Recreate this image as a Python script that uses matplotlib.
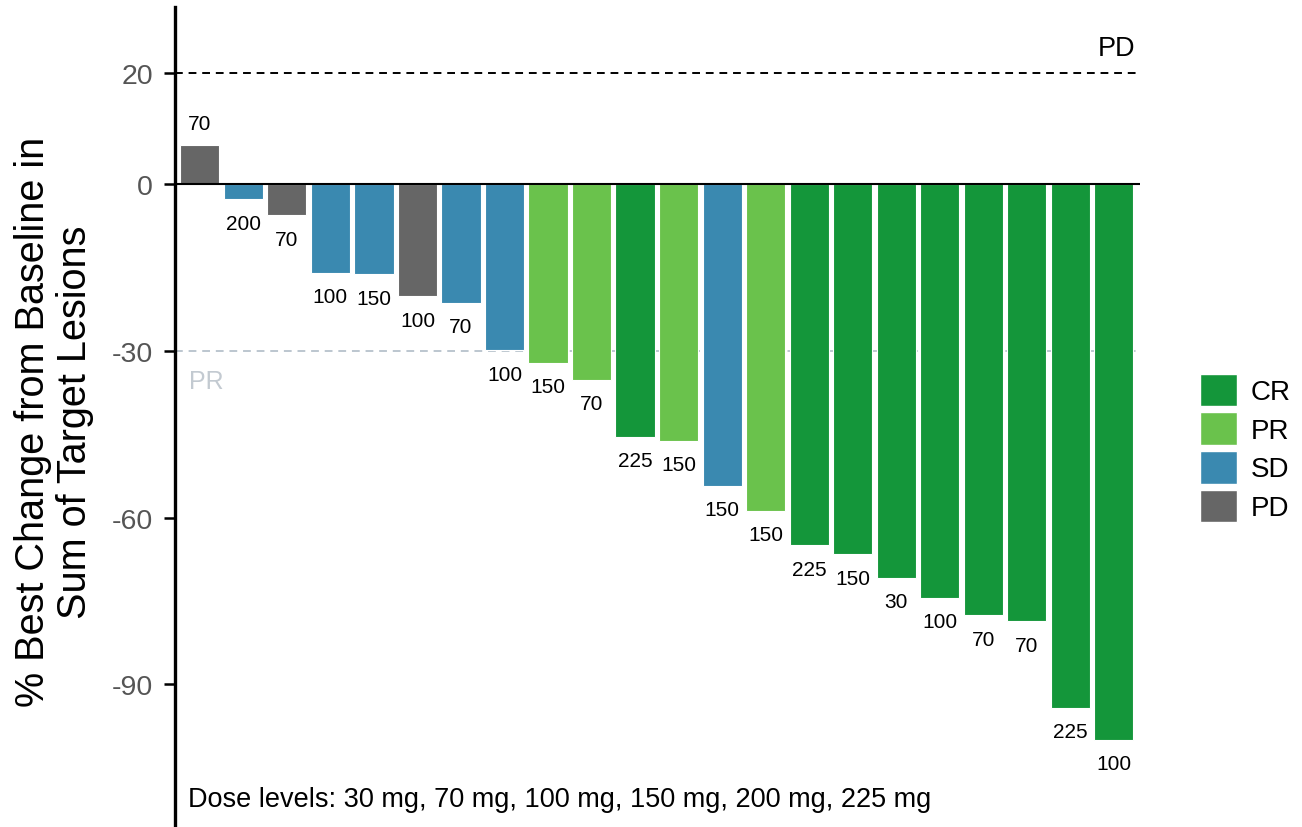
import matplotlib
matplotlib.use("Agg")
import matplotlib.pyplot as plt
from matplotlib.patches import Patch

plt.rcParams['font.family'] = ['Liberation Sans', 'DejaVu Sans']

# Best percent change per patient, ordered as plotted
change = [7, -2.7, -5.6, -16.0, -16.2, -20.2, -21.3, -29.9, -32.2, -35.2,
          -45.5, -46.2, -54.3, -58.8, -65.0, -66.6, -70.9, -74.4, -77.6,
          -78.7, -94.2, -100.0]
response = ['PD', 'SD', 'PD', 'SD', 'SD', 'PD', 'SD', 'SD', 'PR', 'PR',
            'CR', 'PR', 'SD', 'PR', 'CR', 'CR', 'CR', 'CR', 'CR',
            'CR', 'CR', 'CR']
dose = ['70', '200', '70', '100', '150', '100', '70', '100', '150', '70',
        '225', '150', '150', '150', '225', '150', '30', '100', '70',
        '70', '225', '100']

categories = ['CR', 'PR', 'SD', 'PD']
palette = {'CR': '#14963a', 'PR': '#6ac24c', 'SD': '#3a89b0', 'PD': '#666666'}

fig = plt.figure(figsize=(13.02, 8.28), dpi=100)
ax = fig.add_axes([175 / 1302, 0.0, (1140 - 175) / 1302, 1 - 8 / 828])

x = list(range(len(change)))
ax.bar(x, change, width=0.9, color=[palette[r] for r in response],
       edgecolor='white', linewidth=0.8, zorder=2)

for xi, v, d in zip(x, change, dose):
    if v >= 0:
        ax.text(xi, v + 4.0, d, ha='center', va='center', fontsize=15)
    else:
        ax.text(xi, v - 4.3, d, ha='center', va='center', fontsize=15)

ax.axhline(0, color='black', linewidth=1.5, zorder=3)
ax.axhline(20, color='black', linestyle=(0, (4, 3)), linewidth=1.4, zorder=1)
ax.axhline(-30, color='#bcc6cf', linestyle=(0, (4, 3)), linewidth=1.4, zorder=1)
ax.text(21.5, 24.6, 'PD', ha='right', va='center', fontsize=19.5)
ax.text(-0.25, -35.4, 'PR', ha='left', va='center', fontsize=18, color='#c3cad1')

ax.text(-0.28, -110.7, 'Dose levels: 30 mg, 70 mg, 100 mg, 150 mg, 200 mg, 225 mg',
        ha='left', va='center', fontsize=19.5)

ax.set_xlim(-0.57, 21.6)
ax.set_ylim(-115.7, 31.9)
ax.set_yticks([20, 0, -30, -60, -90])
ax.set_yticklabels(['20', '0', '-30', '-60', '-90'])
ax.tick_params(axis='y', labelsize=20.5, labelcolor='#555555', length=8, width=1.8,
               pad=8)
ax.set_xticks([])
for side in ['top', 'right', 'bottom']:
    ax.spines[side].set_visible(False)
ax.spines['left'].set_linewidth(2.4)

fig.text(54 / 1302, 1 - 422 / 828, '% Best Change from Baseline in\nSum of Target Lesions',
         rotation=90, ha='center', va='center', fontsize=28.5, linespacing=1.15)

handles = [Patch(facecolor=palette[c], edgecolor='white', label=c) for c in categories]
fig.legend(handles=handles, loc='center left', bbox_to_anchor=(1200 / 1302, 1 - 449 / 828),
           frameon=False, fontsize=20, handlelength=1.32, handleheight=1.42,
           handletextpad=0.5, labelspacing=0.22, borderaxespad=0, borderpad=0)

fig.savefig('out.png', dpi=100)
